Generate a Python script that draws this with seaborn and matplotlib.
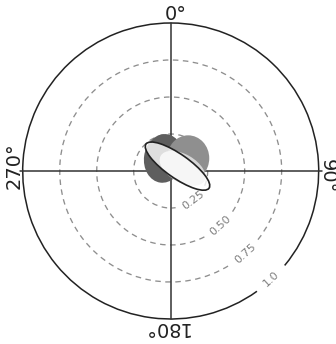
import numpy as np
import pandas as pd
import matplotlib
matplotlib.use("Agg")
import matplotlib.pyplot as plt
from matplotlib.patches import Arc, Ellipse
import seaborn as sns

# Radial rings and their labels
ring_radii = [0.25, 0.50, 0.75, 1.0]
ring_labels = ["0.25", "0.50", "0.75", "1.0"]
ring_label_angle = [-53, -48, -48, -47]   # degrees, counter-clockwise from east

# Compass labels
compass_labels = ["0°", "90°", "180°", "270°"]
compass_angles = [90, 0, 270, 180]         # math angle of each label

# Ellipses drawn in the centre: centre x/y, width, height, rotation, colour
ell_x = [-0.048, 0.118, 0.080, 0.046]
ell_y = [0.085, 0.086, 0.018, 0.033]
ell_w = [0.265, 0.285, 0.34, 0.52]
ell_h = [0.33, 0.31, 0.19, 0.16]
ell_angle = [-8, 0, -30, -35]
ell_color = ["#5e5e5e", "#8f8f8f", "#d6d6d6", "#ffffff"]
ell_alpha = [1.0, 1.0, 1.0, 0.8]
ell_edge = ["none", "none", "none", "#222222"]

sns.set_theme(style="white")
plt.rcParams["font.family"] = ["DejaVu Sans"]

W, H, DPI = 336, 344, 100
fig = plt.figure(figsize=(W / DPI, H / DPI), dpi=DPI)
ax = fig.add_axes([0, 0, 1, 1])
scale = 148.0
cx, cy = 170.7, 171.0
ax.set_xlim(-cx / scale, (W - cx) / scale)
ax.set_ylim(-(H - cy) / scale, cy / scale)
ax.set_aspect("equal")
ax.axis("off")

# crosshair
cross = pd.DataFrame({"x": [-1.02, 1.02, 0, 0], "y": [0, 0, -1.0, 1.0],
                      "line": ["h", "h", "v", "v"]})
sns.lineplot(data=cross, x="x", y="y", units="line", estimator=None, sort=False,
             color="#333333", lw=1.1, ax=ax, zorder=2)

# rings with a gap where each label sits
gap_px = 38.0
for r, lab, a in zip(ring_radii, ring_labels, ring_label_angle):
    half = np.degrees(gap_px / (r * scale)) / 2
    outer = r == 1.0
    arc = Arc((0, 0), 2 * r, 2 * r, theta1=a + half, theta2=a - half + 360,
              color="#222222" if outer else "#8e8e8e",
              lw=1.1 if outer else 0.95,
              linestyle="-" if outer else (0, (4.2, 3.4)), zorder=1)
    ax.add_patch(arc)
    th = np.radians(a)
    ax.text(r * np.cos(th), r * np.sin(th), lab, rotation=a + 90,
            ha="center", va="center", fontsize=8, color="#7e7e7e",
            rotation_mode="anchor")

# compass labels
for lab, a in zip(compass_labels, compass_angles):
    th = np.radians(a)
    rot = a - 90
    tr = np.radians(rot)
    x = 1.058 * np.cos(th) + 0.034 * np.cos(tr)
    y = 1.058 * np.sin(th) + 0.034 * np.sin(tr)
    ax.text(x, y, lab, rotation=rot, ha="center", va="center",
            fontsize=14, color="#222222", rotation_mode="anchor")

# central ellipses
for x, y, w, h, ang, c, al, ec in zip(ell_x, ell_y, ell_w, ell_h, ell_angle,
                                      ell_color, ell_alpha, ell_edge):
    fc = matplotlib.colors.to_rgba(c, al)
    ax.add_patch(Ellipse((x, y), w, h, angle=ang, facecolor=fc,
                         edgecolor=ec, lw=1.2, zorder=3))

fig.savefig("out.png", dpi=DPI)
